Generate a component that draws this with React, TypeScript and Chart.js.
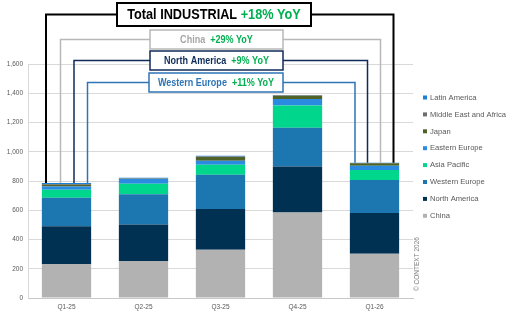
import React, { useEffect, useRef } from "react";
import { Chart, registerables } from "chart.js";

Chart.register(...registerables);

const categories = ["Q1-25", "Q2-25", "Q3-25", "Q4-25", "Q1-26"];
const china = [232, 253, 330, 585, 303];
const northAmerica = [258, 250, 278, 315, 278];
const westernEurope = [195, 206, 235, 264, 226];
const asiaPacific = [55, 72, 68, 153, 68];
const easternEurope = [22, 35, 27, 43, 30];
const japan = [12, 1, 26, 23, 16];
const middleEastAfrica = [5, 3, 4, 3, 2];
const latinAmerica = [7, 2, 5, 2, 2];

const seriesNames = [
  "China",
  "North America",
  "Western Europe",
  "Asia Pacific",
  "Eastern Europe",
  "Japan",
  "Middle East and Africa",
  "Latin America",
];
const seriesValues = [china, northAmerica, westernEurope, asiaPacific, easternEurope, japan, middleEastAfrica, latinAmerica];
const seriesColors = ["#b2b2b2", "#003152", "#1c76b0", "#00d68c", "#2b8be0", "#4f6228", "#6e6e6e", "#1a7fd6"];

const yTicksMax = 1600;
const yTicksStep = 200;

const calloutNames = ["Total INDUSTRIAL", "China", "North America", "Western Europe"];
const calloutYoY = ["+18% YoY", "+29% YoY", "+9% YoY", "+11% YoY"];
const copyrightText = "© CONTEXT 2026";

const FONT = "'Liberation Sans', Arial, sans-serif";
const GREEN = "#00b050";

type Run = { text: string; color: string };

function drawRuns(ctx: CanvasRenderingContext2D, runs: Run[], cx: number, cy: number, font: string, sx: number) {
  ctx.save();
  ctx.font = font;
  ctx.textBaseline = "middle";
  ctx.textAlign = "left";
  const widths = runs.map((r) => ctx.measureText(r.text).width);
  const total = widths.reduce((a, b) => a + b, 0);
  ctx.translate(cx - (total * sx) / 2, cy);
  ctx.scale(sx, 1);
  let x = 0;
  runs.forEach((r, i) => {
    ctx.fillStyle = r.color;
    ctx.fillText(r.text, x, 0);
    x += widths[i];
  });
  ctx.restore();
}

const calloutPlugin = {
  id: "callouts",
  afterDraw(chart: any) {
    const ctx: CanvasRenderingContext2D = chart.ctx;
    const xs = chart.scales.x;
    const ys = chart.scales.y;
    const n = chart.data.labels.length;
    const totals = chart.data.labels.map((_: any, i: number) =>
      chart.data.datasets.reduce((s: number, d: any) => s + (d.data[i] || 0), 0)
    );
    const firstX = xs.getPixelForValue(0);
    const lastX = xs.getPixelForValue(n - 1);
    const firstTop = ys.getPixelForValue(totals[0]);
    const lastTop = ys.getPixelForValue(totals[n - 1]);

    const styles = [
      { color: "#000000", textColor: "#000000", lw: 2, box: [117, 3, 194, 23], offL: -20.5, offR: 19, font: `bold 15.5px ${FONT}` },
      { color: "#b8b8b8", textColor: "#a6a6a6", lw: 1.5, box: [150, 30, 133, 19], offL: -6, offR: 6, font: `bold 11px ${FONT}` },
      { color: "#0f2b59", textColor: "#0f2b59", lw: 1.5, box: [150, 51, 133, 19], offL: 7.5, offR: -7, font: `bold 11px ${FONT}` },
      { color: "#2e75b6", textColor: "#2e75b6", lw: 1.5, box: [149, 73, 134, 19], offL: 21, offR: -19.5, font: `bold 11px ${FONT}` },
    ];

    styles.forEach((s, i) => {
      const [bx, by, bw, bh] = s.box;
      const ly = by + bh / 2;
      const xl = firstX + s.offL;
      const xr = lastX + s.offR;
      ctx.save();
      ctx.strokeStyle = s.color;
      ctx.lineWidth = s.lw;
      ctx.beginPath();
      ctx.moveTo(xl, firstTop);
      ctx.lineTo(xl, ly);
      ctx.lineTo(xr, ly);
      ctx.lineTo(xr, lastTop);
      ctx.stroke();
      ctx.fillStyle = "#ffffff";
      ctx.fillRect(bx, by, bw, bh);
      ctx.strokeRect(bx, by, bw, bh);
      ctx.restore();
      drawRuns(
        ctx,
        [
          { text: calloutNames[i] + (i === 0 ? " " : "  "), color: s.textColor },
          { text: calloutYoY[i], color: GREEN },
        ],
        bx + bw / 2,
        ly + 0.5,
        s.font,
        0.82
      );
    });

    // legend (reversed order)
    const ds = chart.data.datasets.slice().reverse();
    ctx.save();
    ctx.font = `8px ${FONT}`;
    ctx.textBaseline = "middle";
    ds.forEach((d: any, i: number) => {
      const y = 97.5 + i * 16.9;
      ctx.fillStyle = d.backgroundColor;
      ctx.fillRect(423, y - 2, 4, 4);
      ctx.fillStyle = "#595959";
      ctx.save();
      ctx.translate(430, y);
      ctx.scale(0.95, 1);
      ctx.fillText(d.label, 0, 0);
      ctx.restore();
    });
    ctx.restore();

    // copyright
    ctx.save();
    ctx.translate(chart.chartArea.right + 4.5, chart.chartArea.bottom - 7);
    ctx.rotate(-Math.PI / 2);
    ctx.font = `6.5px ${FONT}`;
    ctx.fillStyle = "#808080";
    ctx.textAlign = "left";
    ctx.textBaseline = "middle";
    ctx.fillText(copyrightText, 0, 0);
    ctx.restore();
  },
};

export default function App() {
  const ref = useRef<HTMLCanvasElement>(null);
  useEffect(() => {
    if (!ref.current) return;
    const chart = new Chart(ref.current, {
      type: "bar",
      data: {
        labels: categories,
        datasets: seriesNames.map((name, i) => ({
          label: name,
          data: seriesValues[i],
          backgroundColor: seriesColors[i],
          borderWidth: 0,
          categoryPercentage: 1,
          barPercentage: 0.64,
        })),
      },
      options: {
        responsive: false,
        animation: false,
        devicePixelRatio: 1,
        layout: { padding: { top: 64, right: 99, left: 0, bottom: 0 } },
        plugins: { legend: { display: false }, tooltip: { enabled: false } },
        scales: {
          x: {
            stacked: true,
            grid: { display: false, drawTicks: false },
            border: { color: "#c8c8c8" },
            ticks: { font: { size: 6.5, family: FONT }, color: "#595959", padding: 5 },
            afterFit: (s: any) => {
              s.height = 20;
            },
          },
          y: {
            stacked: true,
            min: 0,
            max: yTicksMax,
            grid: { color: "#d9d9d9", drawTicks: false },
            border: { color: "#d9d9d9" },
            ticks: {
              stepSize: yTicksStep,
              font: { size: 6.5, family: FONT },
              color: "#595959",
              padding: 5,
              callback: (v: any) => Number(v).toLocaleString("en-US"),
            },
            afterFit: (s: any) => {
              s.width = 28;
            },
          },
        },
      },
      plugins: [calloutPlugin],
    } as any);
    return () => chart.destroy();
  }, []);
  return (
    <div style={{ position: "absolute", left: 0, top: 0, width: 512, height: 318, background: "#fff" }}>
      <canvas ref={ref} width={512} height={318} style={{ display: "block" }} />
    </div>
  );
}
